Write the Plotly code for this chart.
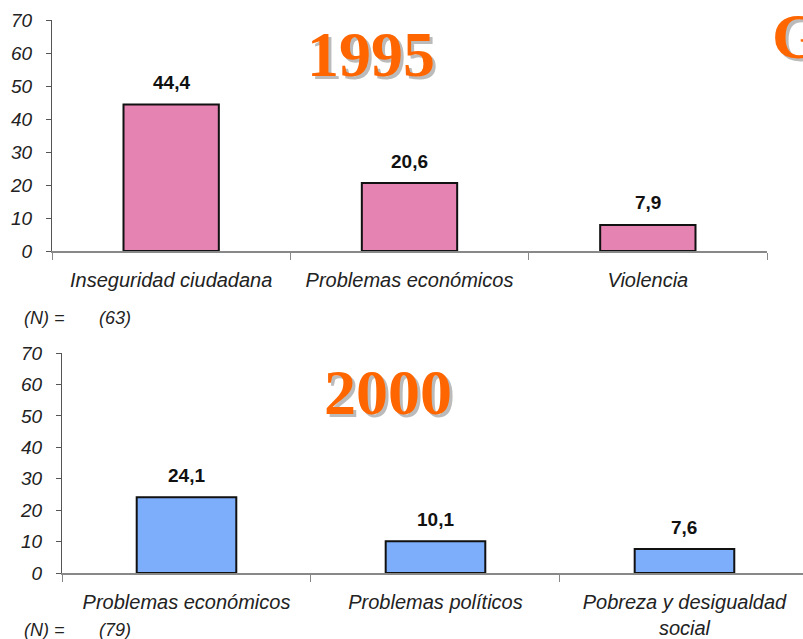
import plotly.graph_objects as go

W, H = 803, 639

cats_1995 = ["Inseguridad ciudadana", "Problemas económicos", "Violencia"]
vals_1995 = [44.4, 20.6, 7.9]
labels_1995 = ["44,4", "20,6", "7,9"]
n_1995 = "(63)"

cats_2000 = ["Problemas económicos", "Problemas políticos", "Pobreza y desigualdad<br>social"]
vals_2000 = [24.1, 10.1, 7.6]
labels_2000 = ["24,1", "10,1", "7,6"]
n_2000 = "(79)"

y_ticks = [0, 10, 20, 30, 40, 50, 60, 70]

def px_x(p):
    return p / W

def px_y(p):
    return 1 - p / H

fig = go.Figure()

valfont = dict(family="Liberation Sans, Arial, sans-serif", size=19, color="#111", weight="bold")

fig.add_trace(go.Bar(
    x=cats_1995, y=vals_1995,
    marker=dict(color="#E583B3", line=dict(color="#111", width=2)),
    width=0.4, xaxis="x", yaxis="y", cliponaxis=False, hoverinfo="x+y",
))
fig.add_trace(go.Bar(
    x=cats_2000, y=vals_2000,
    marker=dict(color="#7DAEFB", line=dict(color="#111", width=2)),
    width=0.4, xaxis="x2", yaxis="y2", cliponaxis=False, hoverinfo="x+y",
))

for cats, vals, labels, xr, yr in [(cats_1995, vals_1995, labels_1995, "x", "y"),
                                   (cats_2000, vals_2000, labels_2000, "x2", "y2")]:
    for c, v, t in zip(cats, vals, labels):
        fig.add_annotation(x=c, y=v, xref=xr, yref=yr, text=t, showarrow=False,
                           yanchor="middle", yshift=22, font=valfont)

tickfont = dict(family="Liberation Sans, Arial, sans-serif", size=19, color="#222", style="italic")
catfont = dict(family="Liberation Sans, Arial, sans-serif", size=20, color="#222", style="italic")

common_x = dict(type="category", showgrid=False, zeroline=False, showline=True,
                linecolor="#888", linewidth=1.5, ticks="outside", tickson="boundaries",
                ticklen=7, tickcolor="#888", tickfont=catfont, fixedrange=True,
                automargin=False, ticklabelstandoff=10)
common_y = dict(range=[0, 70], tickvals=y_ticks, showgrid=False, zeroline=False,
                showline=True, linecolor="#555", linewidth=1.2, ticks="outside",
                ticklen=5, tickcolor="#555", tickfont=tickfont, automargin=False,
                ticklabelstandoff=10)

fig.update_layout(
    template="none",
    width=W, height=H,
    margin=dict(l=0, r=0, t=0, b=0, pad=0),
    paper_bgcolor="white", plot_bgcolor="white",
    showlegend=False,
    xaxis=dict(domain=[px_x(52), px_x(767)], anchor="y", range=[-0.5, 2.5], **common_x),
    yaxis=dict(domain=[px_y(251), px_y(20)], anchor="x", **common_y),
    xaxis2=dict(domain=[px_x(62), 1.0], anchor="y2", range=[-0.5, 2.476], **common_x),
    yaxis2=dict(domain=[px_y(573), px_y(353)], anchor="x2", **common_y),
)

title_font = "Liberation Serif, Times New Roman, serif"

def big_title(text, cx, cy, xanchor="center"):
    fig.add_annotation(
        text="<b>%s</b>" % text, x=px_x(cx), y=px_y(cy), xref="paper", yref="paper",
        xanchor=xanchor, yanchor="middle", showarrow=False,
        font=dict(family=title_font, size=64, color="#FF6600", shadow="3px 3px 0px #BBBBBB"),
    )

big_title("1995", 371, 54)
big_title("2000", 388, 392)
big_title("G", 770, 36, xanchor="left")

nfont = dict(family="Liberation Sans Narrow, Arial Narrow, Liberation Sans, sans-serif",
             size=18, color="#222", style="italic")
for (txt, cx, cy) in [("(N) =", 22, 318), (n_1995, 97, 318), ("(N) =", 22, 630), (n_2000, 97, 630)]:
    fig.add_annotation(text=txt, x=px_x(cx), y=px_y(cy), xref="paper", yref="paper",
                       xanchor="left", yanchor="middle", showarrow=False, font=nfont)

fig.write_html("out.html", config={"displayModeBar": False},
               post_script="document.body.style.margin='0';")
